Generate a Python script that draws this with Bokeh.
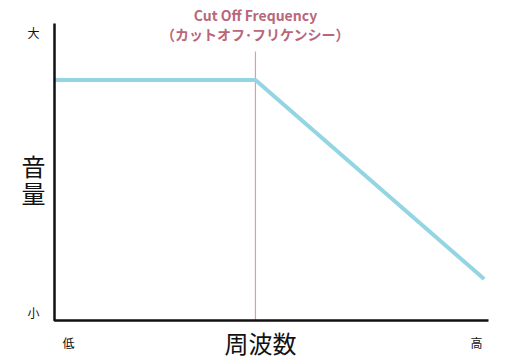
from bokeh.plotting import figure
from bokeh.models import Range1d
from bokeh.core.properties import value
from bokeh.embed import file_html
from bokeh.resources import INLINE

# Data (normalized frequency 0..1, normalized volume 0..1)
freq = [0.0, 0.463, 0.99]
level = [0.81, 0.81, 0.14]
cutoff = 0.463

title_lines = ["Cut Off Frequency", "（カットオフ･フリケンシー）"]
y_tick_labels = ["小", "大"]
x_tick_labels = ["低", "高"]
x_label = "周波数"
y_label = ["音", "量"]

W, H = 510, 360
left, right, top, bottom = 54, 488, 23, 320
sx = right - left
sy = bottom - top

p = figure(width=W, height=H, output_backend="svg", toolbar_location=None,
           x_range=Range1d(-left / sx, (W - left) / sx),
           y_range=Range1d(-(H - bottom) / sy, bottom / sy),
           min_border=0)
p.axis.visible = False
p.grid.visible = False
p.outline_line_color = None
p.background_fill_color = "white"
p.border_fill_color = "white"

FONT = value("Noto Sans CJK JP")
px = 1.0 / sx
py = 1.0 / sy

# cutoff line
p.segment(x0=[cutoff], y0=[0], x1=[cutoff], y1=[(bottom - 51) * py],
          line_color="#e39aa3", line_width=1.2)

# response line
p.line(freq, level, line_color="#93d5e2", line_width=4)

# axes
p.line([0, 0, 1], [1, 0, 0], line_color="#111111", line_width=2.5)

# title
p.text(x=[cutoff], y=[(bottom - 14) * py], text=[title_lines[0]],
       text_font=FONT, text_font_size="14px", text_font_style="bold",
       text_color="#b8677a", text_align="center", text_baseline="middle")
p.text(x=[cutoff], y=[(bottom - 33) * py], text=[title_lines[1]],
       text_font=FONT, text_font_size="14px", text_font_style="bold",
       text_color="#b8677a", text_align="center", text_baseline="middle")

# y tick labels
p.text(x=[-21 * px, -21 * px], y=[8 * py, 1.0 - 9 * py], text=y_tick_labels,
       text_font=FONT, text_font_size="12px", text_color="#111111",
       text_align="center", text_baseline="middle")
# x tick labels
p.text(x=[14 * px, 1.0 - 12 * px], y=[-22 * py, -22 * py], text=x_tick_labels,
       text_font=FONT, text_font_size="12px", text_color="#111111",
       text_align="center", text_baseline="middle")

# axis labels
p.text(x=[(260 - left) * px], y=[-22 * py], text=[x_label],
       text_font=FONT, text_font_size="24px", text_color="#111111",
       text_align="center", text_baseline="middle")
p.text(x=[-21 * px, -21 * px], y=[(bottom - 165) * py, (bottom - 192) * py], text=y_label,
       text_font=FONT, text_font_size="24px", text_color="#111111",
       text_align="center", text_baseline="middle")

open("out.html", "w").write(file_html(p, INLINE))
